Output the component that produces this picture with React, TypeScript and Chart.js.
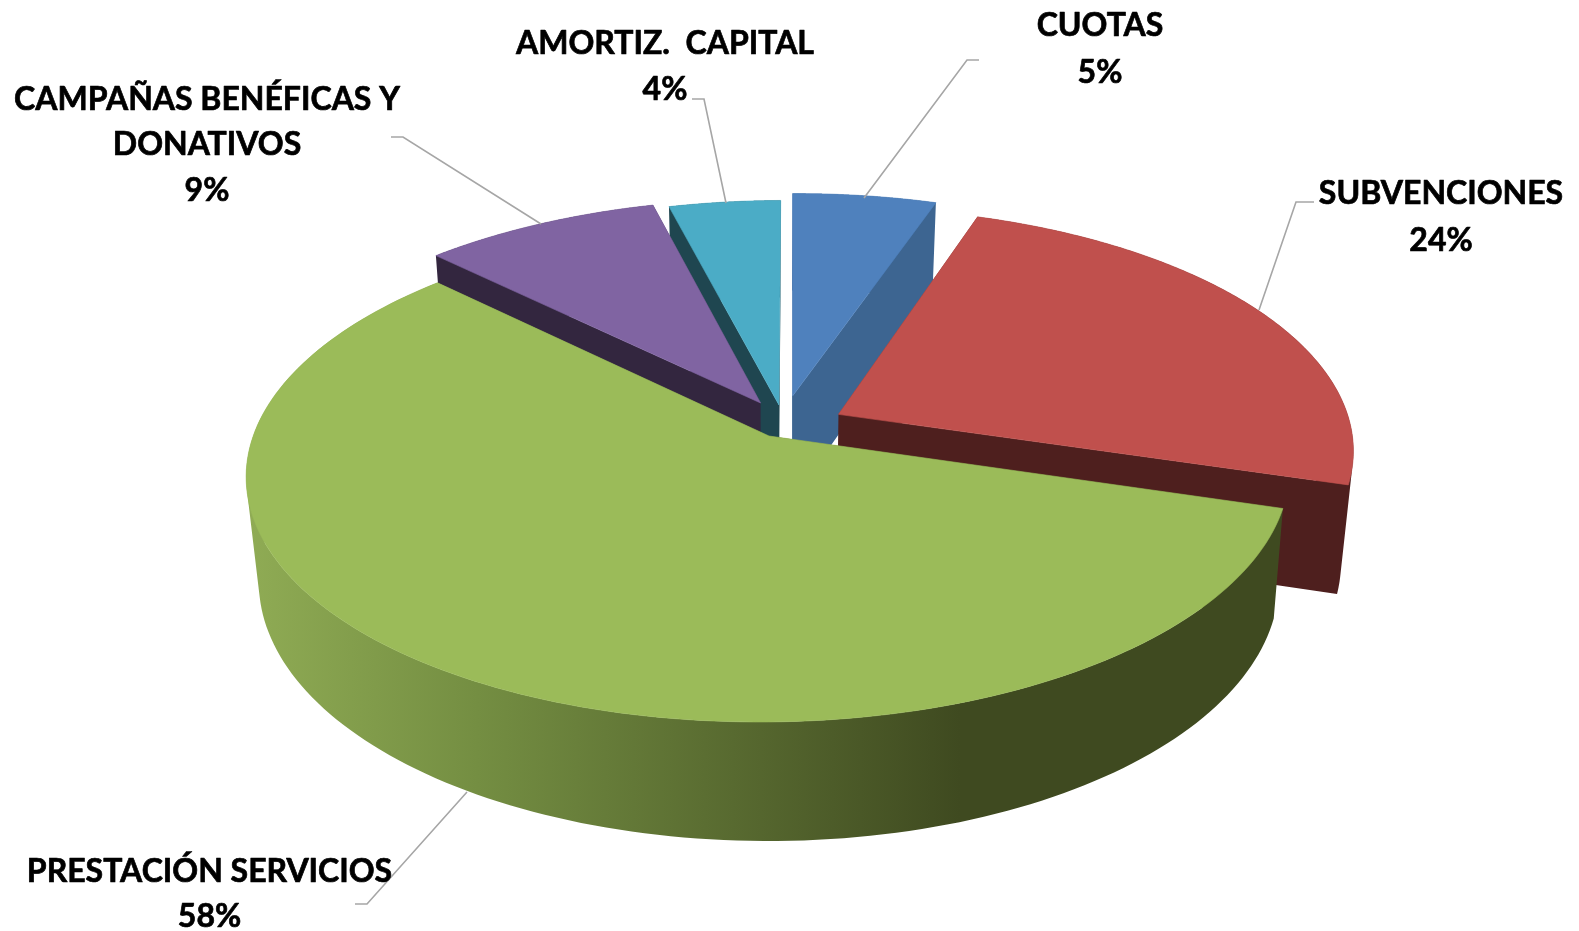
import React, { useEffect, useRef } from "react";
import { Chart, registerables } from "chart.js";

Chart.register(...registerables);

const categories = ["CUOTAS", "SUBVENCIONES", "PRESTACIÓN SERVICIOS", "CAMPAÑAS BENÉFICAS Y DONATIVOS", "AMORTIZ.  CAPITAL"];
const values = [5.25, 24.49, 57.61, 8.6, 4.05];
const topColors = ["#4f81bd", "#c0504d", "#9bbb59", "#8064a2", "#4bacc6"];
const wallColors = ["#3d6591", "#4e1f1e", "#3f4a20", "#33263f", "#1f4650"];

const W = 1579;
const H = 931;

// Perspective view of the pie's plane
const VIEW = { cx: 769, cy: 436, A: 515.8, B: 243.5, C: -8, k: 0.1486 };
// Extrusion of the pie (bottom face relative to the top face)
const DEPTH = { sx: 0.978, sy: 1.042, dy: 107, shear: 0.03 };
// Explosion of each slice in the pie's plane
const EXPLODE = [[0.0443, -0.1684], [0.1351, -0.09], [0, 0], [-0.0188, -0.1383], [0.0177, -0.1298]];
const DRAW_ORDER = [0, 4, 3, 1, 2];

const FONT = "bold 32px Lato";
const TEXT = [
  { lines: ["CUOTAS", "5%"], x: 1100, y: [26, 72.5] },
  { lines: ["SUBVENCIONES", "24%"], x: 1441, y: [194, 241] },
  { lines: ["PRESTACIÓN SERVICIOS", "58%"], x: 209.5, y: [872, 917] },
  { lines: ["CAMPAÑAS BENÉFICAS Y", "DONATIVOS", "9%"], x: 207, y: [100, 145, 191] },
  { lines: ["AMORTIZ.  CAPITAL", "4%"], x: 665, y: [44, 90] },
];
const LEADERS = [
  [[979, 60], [967, 60], [864, 198]],
  [[1314, 202], [1296, 202], [1259, 310]],
  [[355, 904], [367, 904], [467, 792]],
  [[391, 137], [403, 137], [541, 224]],
  [[692, 99], [704, 99], [726, 203]],
];

type P = [number, number];

function project(u: number, v: number): P {
  const w = 1 - VIEW.k * v;
  return [VIEW.cx + (VIEW.A * u + VIEW.C * v) / w, VIEW.cy + (VIEW.B * v) / w];
}
function lower(p: P): P {
  const dy = p[1] - VIEW.cy;
  return [VIEW.cx + (p[0] - VIEW.cx) * DEPTH.sx + Math.max(dy, 0) * DEPTH.shear, VIEW.cy + dy * DEPTH.sy + DEPTH.dy];
}
function addQuad(ctx: CanvasRenderingContext2D, quad: P[]) {
  let area = 0;
  quad.forEach((p, i) => {
    const q = quad[(i + 1) % quad.length];
    area += p[0] * q[1] - q[0] * p[1];
  });
  const pts = area < 0 ? quad.slice().reverse() : quad;
  pts.forEach((p, i) => (i ? ctx.lineTo(p[0], p[1]) : ctx.moveTo(p[0], p[1])));
  ctx.closePath();
}

const pie3d = {
  id: "pie3d",
  beforeDatasetsDraw(chart: any) {
    const ctx: CanvasRenderingContext2D = chart.ctx;
    const arcs = chart.getDatasetMeta(0).data;
    DRAW_ORDER.forEach((i) => {
      const arc = arcs[i].getProps(["startAngle", "endAngle"], true);
      const [du, dv] = EXPLODE[i];
      const apex = project(du, dv);
      const rim: P[] = [];
      const n = 160;
      for (let s = 0; s <= n; s++) {
        const a = arc.startAngle + ((arc.endAngle - arc.startAngle) * s) / n;
        rim.push(project(du + Math.cos(a), dv + Math.sin(a)));
      }
      const lowRim = rim.map(lower);
      let wall: string | CanvasGradient = wallColors[i];
      if (i === 2) {
        const g = ctx.createLinearGradient(250, 0, 960, 0);
        g.addColorStop(0, "#8fab54");
        g.addColorStop(0.32, "#748e42");
        g.addColorStop(1, wallColors[i]);
        wall = g;
      }
      // every wall quad goes in one path with one winding, so no seams show
      ctx.beginPath();
      addQuad(ctx, [apex, rim[0], lowRim[0], lower(apex)]);
      addQuad(ctx, [apex, rim[n], lowRim[n], lower(apex)]);
      for (let s = 0; s < n; s++) addQuad(ctx, [rim[s], rim[s + 1], lowRim[s + 1], lowRim[s]]);
      ctx.fillStyle = wall;
      ctx.fill("nonzero");
      // top face
      ctx.beginPath();
      [apex, ...rim].forEach((p, k) => (k ? ctx.lineTo(p[0], p[1]) : ctx.moveTo(p[0], p[1])));
      ctx.closePath();
      ctx.fillStyle = topColors[i];
      ctx.fill();
      ctx.strokeStyle = topColors[i];
      ctx.lineWidth = 0.6;
      ctx.stroke();
    });
    return false;
  },
  afterDraw(chart: any) {
    const ctx: CanvasRenderingContext2D = chart.ctx;
    ctx.save();
    ctx.strokeStyle = "#a6a6a6";
    ctx.lineWidth = 1.6;
    LEADERS.forEach((line) => {
      ctx.beginPath();
      line.forEach((p, i) => (i ? ctx.lineTo(p[0], p[1]) : ctx.moveTo(p[0], p[1])));
      ctx.stroke();
    });
    ctx.fillStyle = "#000000";
    ctx.strokeStyle = "#000000";
    ctx.lineWidth = 0.7;
    ctx.lineJoin = "round";
    ctx.font = FONT;
    ctx.textAlign = "center";
    ctx.textBaseline = "middle";
    TEXT.forEach((t) =>
      t.lines.forEach((l, i) => {
        ctx.strokeText(l, t.x, t.y[i]);
        ctx.fillText(l, t.x, t.y[i]);
      })
    );
    ctx.restore();
  },
};

export default function App() {
  const ref = useRef<HTMLCanvasElement>(null);
  useEffect(() => {
    const chart = new Chart(ref.current!, {
      type: "pie",
      data: {
        labels: categories,
        datasets: [{ data: values, backgroundColor: topColors, borderWidth: 0 }],
      },
      options: {
        responsive: false,
        animation: false,
        rotation: -0.5,
        plugins: { legend: { display: false }, tooltip: { enabled: false } },
      },
      plugins: [pie3d],
    } as any);
    return () => chart.destroy();
  }, []);
  return (
    <div style={{ position: "absolute", left: 0, top: 0, width: W, height: H, background: "#fff" }}>
      <canvas ref={ref} width={W} height={H} style={{ display: "block" }} />
    </div>
  );
}
